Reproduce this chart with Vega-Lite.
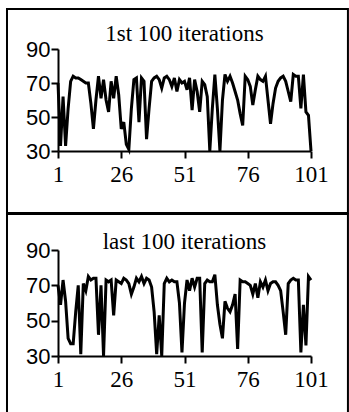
{
  "$schema": "https://vega.github.io/schema/vega-lite/v6.json",
  "padding": {"left": 5, "top": 7, "right": 0, "bottom": 0},
  "spacing": -2,
  "background": "white",
  "config": {
    "view": {"stroke": null},
    "axis": {
      "grid": false,
      "domainColor": "black",
      "domainWidth": 2,
      "tickColor": "black",
      "tickWidth": 2,
      "labelColor": "black",
      "labelFlush": false,
      "labelOverlap": false,
      "title": null
    }
  },
  "datasets": {
    "first": [
      {"i":1,"v":70},{"i":2,"v":33},{"i":3,"v":62},{"i":4,"v":33},{"i":5,"v":55},{"i":6,"v":71},{"i":7,"v":74},{"i":8,"v":73},{"i":9,"v":73},{"i":10,"v":72},
      {"i":11,"v":71},{"i":12,"v":70},{"i":13,"v":70},{"i":14,"v":58},{"i":15,"v":43},{"i":16,"v":60},{"i":17,"v":74},{"i":18,"v":61},{"i":19,"v":72},{"i":20,"v":60},
      {"i":21,"v":53},{"i":22,"v":71},{"i":23,"v":61},{"i":24,"v":74},{"i":25,"v":63},{"i":26,"v":43},{"i":27,"v":47},{"i":28,"v":34},{"i":29,"v":31},{"i":30,"v":55},
      {"i":31,"v":72},{"i":32,"v":73},{"i":33,"v":47},{"i":34,"v":73},{"i":35,"v":71},{"i":36,"v":37},{"i":37,"v":55},{"i":38,"v":71},{"i":39,"v":73},{"i":40,"v":74},
      {"i":41,"v":72},{"i":42,"v":67},{"i":43,"v":73},{"i":44,"v":74},{"i":45,"v":72},{"i":46,"v":68},{"i":47,"v":73},{"i":48,"v":65},{"i":49,"v":72},{"i":50,"v":70},
      {"i":51,"v":71},{"i":52,"v":66},{"i":53,"v":73},{"i":54,"v":54},{"i":55,"v":72},{"i":56,"v":65},{"i":57,"v":53},{"i":58,"v":71},{"i":59,"v":69},{"i":60,"v":62},
      {"i":61,"v":30},{"i":62,"v":55},{"i":63,"v":75},{"i":64,"v":55},{"i":65,"v":30},{"i":66,"v":60},{"i":67,"v":75},{"i":68,"v":71},{"i":69,"v":74},{"i":70,"v":70},
      {"i":71,"v":65},{"i":72,"v":60},{"i":73,"v":52},{"i":74,"v":45},{"i":75,"v":74},{"i":76,"v":72},{"i":77,"v":68},{"i":78,"v":57},{"i":79,"v":66},{"i":80,"v":74},
      {"i":81,"v":72},{"i":82,"v":71},{"i":83,"v":74},{"i":84,"v":60},{"i":85,"v":46},{"i":86,"v":58},{"i":87,"v":67},{"i":88,"v":71},{"i":89,"v":73},{"i":90,"v":74},
      {"i":91,"v":71},{"i":92,"v":65},{"i":93,"v":59},{"i":94,"v":75},{"i":95,"v":74},{"i":96,"v":74},{"i":97,"v":55},{"i":98,"v":75},{"i":99,"v":53},{"i":100,"v":51},
      {"i":101,"v":30}
    ],
    "last": [
      {"i":1,"v":70},{"i":2,"v":59},{"i":3,"v":73},{"i":4,"v":61},{"i":5,"v":40},{"i":6,"v":37},{"i":7,"v":37},{"i":8,"v":55},{"i":9,"v":70},{"i":10,"v":31},
      {"i":11,"v":71},{"i":12,"v":67},{"i":13,"v":75},{"i":14,"v":73},{"i":15,"v":74},{"i":16,"v":74},{"i":17,"v":42},{"i":18,"v":70},{"i":19,"v":30},{"i":20,"v":73},
      {"i":21,"v":72},{"i":22,"v":73},{"i":23,"v":53},{"i":24,"v":73},{"i":25,"v":72},{"i":26,"v":71},{"i":27,"v":74},{"i":28,"v":73},{"i":29,"v":71},{"i":30,"v":65},
      {"i":31,"v":69},{"i":32,"v":74},{"i":33,"v":72},{"i":34,"v":75},{"i":35,"v":71},{"i":36,"v":74},{"i":37,"v":73},{"i":38,"v":69},{"i":39,"v":55},{"i":40,"v":31},
      {"i":41,"v":53},{"i":42,"v":30},{"i":43,"v":71},{"i":44,"v":74},{"i":45,"v":72},{"i":46,"v":73},{"i":47,"v":72},{"i":48,"v":72},{"i":49,"v":60},{"i":50,"v":32},
      {"i":51,"v":60},{"i":52,"v":73},{"i":53,"v":67},{"i":54,"v":74},{"i":55,"v":69},{"i":56,"v":74},{"i":57,"v":74},{"i":58,"v":32},{"i":59,"v":71},{"i":60,"v":73},
      {"i":61,"v":72},{"i":62,"v":72},{"i":63,"v":76},{"i":64,"v":59},{"i":65,"v":48},{"i":66,"v":40},{"i":67,"v":61},{"i":68,"v":57},{"i":69,"v":55},{"i":70,"v":59},
      {"i":71,"v":65},{"i":72,"v":34},{"i":73,"v":73},{"i":74,"v":72},{"i":75,"v":72},{"i":76,"v":71},{"i":77,"v":70},{"i":78,"v":65},{"i":79,"v":71},{"i":80,"v":63},
      {"i":81,"v":72},{"i":82,"v":69},{"i":83,"v":73},{"i":84,"v":67},{"i":85,"v":71},{"i":86,"v":72},{"i":87,"v":72},{"i":88,"v":70},{"i":89,"v":67},{"i":90,"v":55},
      {"i":91,"v":42},{"i":92,"v":71},{"i":93,"v":73},{"i":94,"v":74},{"i":95,"v":73},{"i":96,"v":73},{"i":97,"v":32},{"i":98,"v":59},{"i":99,"v":36},{"i":100,"v":75},
      {"i":101,"v":73}
    ]
  },
  "vconcat": [
    {
      "width": 253,
      "height": 102,
      "layer": [
        {
          "data": {"name": "first"},
          "mark": {"type": "line", "color": "black", "strokeWidth": 3},
          "encoding": {
            "x": {"field": "i", "type": "quantitative", "scale": {"domain": [1, 101], "nice": false, "zero": false},
                  "axis": {"values": [1, 26, 51, 76, 101], "title": null, "labelFont": "Liberation Serif", "labelFontSize": 23, "tickSize": 7, "labelPadding": 5}},
            "y": {"field": "v", "type": "quantitative", "scale": {"domain": [30, 90], "nice": false, "zero": false},
                  "axis": {"values": [30, 50, 70, 90], "title": null, "labelFont": "Liberation Sans", "labelFontSize": 22, "tickSize": 7, "labelPadding": 1}}
          }
        },
        {
          "data": {"values": [{"label": "1st 100 iterations"}]},
          "mark": {"type": "text", "font": "Liberation Serif", "fontSize": 23, "baseline": "alphabetic", "align": "center", "color": "black"},
          "encoding": {
            "x": {"datum": 51, "axis": {"values": [1, 26, 51, 76, 101], "title": null, "labelFont": "Liberation Serif", "labelFontSize": 23, "tickSize": 7, "labelPadding": 5}},
            "y": {"datum": 94.7, "axis": {"values": [30, 50, 70, 90], "title": null, "labelFont": "Liberation Sans", "labelFontSize": 22, "tickSize": 7, "labelPadding": 1}},
            "text": {"field": "label"}
          }
        },
        {
          "data": {"values": [{}]},
          "mark": {"type": "rect", "filled": false, "color": "black", "strokeWidth": 2},
          "encoding": {
            "x": {"datum": -19.16, "axis": {"values": [1, 26, 51, 76, 101], "title": null, "labelFont": "Liberation Serif", "labelFontSize": 23, "tickSize": 7, "labelPadding": 5}},
            "x2": {"datum": 115.6},
            "y": {"datum": -6.47, "axis": {"values": [30, 50, 70, 90], "title": null, "labelFont": "Liberation Sans", "labelFontSize": 22, "tickSize": 7, "labelPadding": 1}},
            "y2": {"datum": 113.53}
          }
        }
      ]
    },
    {
      "width": 253,
      "height": 106,
      "layer": [
        {
          "data": {"name": "last"},
          "mark": {"type": "line", "color": "black", "strokeWidth": 3},
          "encoding": {
            "x": {"field": "i", "type": "quantitative", "scale": {"domain": [1, 101], "nice": false, "zero": false},
                  "axis": {"values": [1, 26, 51, 76, 101], "title": null, "labelFont": "Liberation Serif", "labelFontSize": 23, "tickSize": 7, "labelPadding": 5}},
            "y": {"field": "v", "type": "quantitative", "scale": {"domain": [30, 90], "nice": false, "zero": false},
                  "axis": {"values": [30, 50, 70, 90], "title": null, "labelFont": "Liberation Sans", "labelFontSize": 22, "tickSize": 7, "labelPadding": 1}}
          }
        },
        {
          "data": {"values": [{"label": "last 100 iterations"}]},
          "mark": {"type": "text", "font": "Liberation Serif", "fontSize": 23, "baseline": "alphabetic", "align": "center", "color": "black"},
          "encoding": {
            "x": {"datum": 51, "axis": {"values": [1, 26, 51, 76, 101], "title": null, "labelFont": "Liberation Serif", "labelFontSize": 23, "tickSize": 7, "labelPadding": 5}},
            "y": {"datum": 90.6, "axis": {"values": [30, 50, 70, 90], "title": null, "labelFont": "Liberation Sans", "labelFontSize": 22, "tickSize": 7, "labelPadding": 1}},
            "text": {"field": "label"}
          }
        },
        {
          "data": {"values": [{}]},
          "mark": {"type": "rect", "filled": false, "color": "black", "strokeWidth": 2},
          "encoding": {
            "x": {"datum": -19.16, "axis": {"values": [1, 26, 51, 76, 101], "title": null, "labelFont": "Liberation Serif", "labelFontSize": 23, "tickSize": 7, "labelPadding": 5}},
            "x2": {"datum": 115.6},
            "y": {"datum": -2.26, "axis": {"values": [30, 50, 70, 90], "title": null, "labelFont": "Liberation Sans", "labelFontSize": 22, "tickSize": 7, "labelPadding": 1}},
            "y2": {"datum": 110.38}
          }
        }
      ]
    }
  ]
}
